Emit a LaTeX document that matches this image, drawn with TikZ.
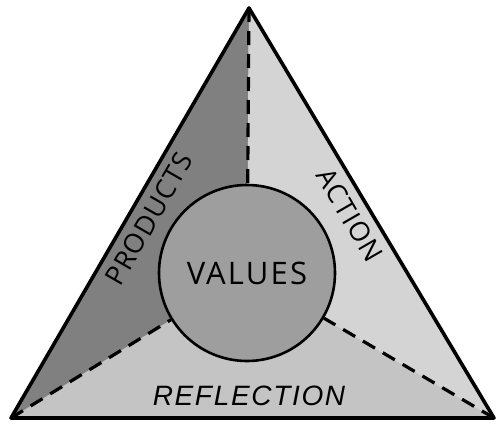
\documentclass[tikz,border=0pt]{standalone}
\usepackage{fontspec}
\setmainfont{Open Sans}
\newfontfamily\reflfont{Liberation Sans}
\usetikzlibrary{calc}
\definecolor{prodgray}{gray}{0.50}
\definecolor{actgray}{gray}{0.83}
\definecolor{reflgray}{gray}{0.77}
\definecolor{hubgray}{gray}{0.62}

\begin{document}
\begin{tikzpicture}[x=1pt, y=-1pt,
    edge/.style={line width=3.6pt, line join=round},
    split/.style={line width=3.2pt, dash pattern=on 14pt off 9pt},
    hub/.style={circle, draw, line width=2.6pt, fill=hubgray, minimum size=176pt, inner sep=0pt,
      font=\fontsize{31}{34}\selectfont\addfontfeatures{LetterSpace=7}},
    side/.style={font=\fontsize{27}{30}\selectfont\addfontfeatures{LetterSpace=4}, inner sep=0pt}]
  \useasboundingbox (0,0) rectangle (499,426);
  \coordinate (top) at (249,8);
  \coordinate (left) at (11,418);
  \coordinate (right) at (494,418);
  \coordinate (mid) at (247,273);
  % three sectors
  \fill[reflgray] (left) -- (mid) -- (right) -- cycle;
  \fill[prodgray] (top) -- (mid) -- (left) -- cycle;
  \fill[actgray] (top) -- (mid) -- (right) -- cycle;
  \node[hub] (values) at (mid) {VALUES};
  \draw[split] (top) -- (values);
  \draw[split] (left) -- (values);
  \draw[split] (right) -- (values);
  \draw[edge] (top) -- (left) -- (right) -- cycle;
  \node[side, rotate=60] (products) at (149,219) {PRODUCTS};
  \node[side, rotate=-60] (action) at (350,215) {ACTION};
  \node[font=\reflfont\itshape\fontsize{28}{30}\selectfont\addfontfeatures{LetterSpace=6}, inner sep=0pt] (reflection) at (249,396) {REFLECTION};
\end{tikzpicture}
\end{document}
